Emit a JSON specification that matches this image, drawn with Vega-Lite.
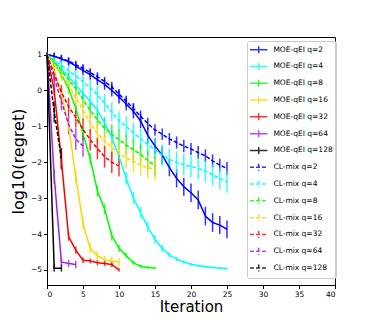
{
  "$schema": "https://vega.github.io/schema/vega-lite/v6.json",
  "autosize": {"type": "none"},
  "padding": {"left": 47, "top": 37, "right": 39, "bottom": 35},
  "width": 288,
  "height": 248,
  "background": "white",
  "config": {
    "font": "DejaVu Sans",
    "view": {"stroke": "black", "strokeWidth": 1},
    "axis": {
      "grid": false, "domainColor": "black", "tickColor": "black", "tickSize": 3.5,
      "labelColor": "black", "labelFontSize": 7.5, "labelFont": "DejaVu Sans", "labelPadding": 2,
      "titleColor": "black", "titleFont": "DejaVu Sans", "titleFontWeight": "normal"
    },
    "legend": {
      "orient": "none", "legendX": 200, "legendY": 4,
      "padding": 3.15, "rowPadding": 1.8, "symbolSize": 81,
      "symbolType": "M-1.26,0H2.61M0.68,-0.78V0.78",
      "symbolStrokeWidth": 1.5, "labelOffset": 12.25,
      "labelFontSize": 7.5, "labelFont": "DejaVu Sans", "labelColor": "black",
      "fillColor": "rgba(255,255,255,0.8)", "strokeColor": "#cccccc", "cornerRadius": 2
    }
  },
  "datasets": {
    "d": [
      {"s":"MOE-qEI q=2","x":0,"y":1.0,"e":0.05},{"s":"MOE-qEI q=2","x":1,"y":0.95,"e":0.1},{"s":"MOE-qEI q=2","x":2,"y":0.88,"e":0.1},{"s":"MOE-qEI q=2","x":3,"y":0.8,"e":0.12},{"s":"MOE-qEI q=2","x":4,"y":0.68,"e":0.12},{"s":"MOE-qEI q=2","x":5,"y":0.56,"e":0.13},{"s":"MOE-qEI q=2","x":6,"y":0.44,"e":0.14},{"s":"MOE-qEI q=2","x":7,"y":0.3,"e":0.15},{"s":"MOE-qEI q=2","x":8,"y":0.17,"e":0.15},{"s":"MOE-qEI q=2","x":9,"y":0.0,"e":0.17},{"s":"MOE-qEI q=2","x":10,"y":-0.18,"e":0.18},{"s":"MOE-qEI q=2","x":11,"y":-0.38,"e":0.18},{"s":"MOE-qEI q=2","x":12,"y":-0.58,"e":0.2},{"s":"MOE-qEI q=2","x":13,"y":-0.85,"e":0.2},{"s":"MOE-qEI q=2","x":14,"y":-1.25,"e":0.22},{"s":"MOE-qEI q=2","x":15,"y":-1.55,"e":0.22},{"s":"MOE-qEI q=2","x":16,"y":-1.8,"e":0.24},{"s":"MOE-qEI q=2","x":17,"y":-2.15,"e":0.24},{"s":"MOE-qEI q=2","x":18,"y":-2.45,"e":0.25},{"s":"MOE-qEI q=2","x":19,"y":-2.68,"e":0.25},{"s":"MOE-qEI q=2","x":20,"y":-2.85,"e":0.26},{"s":"MOE-qEI q=2","x":21,"y":-3.05,"e":0.26},{"s":"MOE-qEI q=2","x":22,"y":-3.5,"e":0.26},{"s":"MOE-qEI q=2","x":23,"y":-3.68,"e":0.26},{"s":"MOE-qEI q=2","x":24,"y":-3.75,"e":0.25},{"s":"MOE-qEI q=2","x":25,"y":-3.87,"e":0.25},
      {"s":"MOE-qEI q=4","x":0,"y":1.0,"e":0.05},{"s":"MOE-qEI q=4","x":1,"y":0.8,"e":0.1},{"s":"MOE-qEI q=4","x":2,"y":0.6,"e":0.12},{"s":"MOE-qEI q=4","x":3,"y":0.38,"e":0.13},{"s":"MOE-qEI q=4","x":4,"y":0.15,"e":0.14},{"s":"MOE-qEI q=4","x":5,"y":-0.08,"e":0.15},{"s":"MOE-qEI q=4","x":6,"y":-0.3,"e":0.16},{"s":"MOE-qEI q=4","x":7,"y":-0.55,"e":0.17},{"s":"MOE-qEI q=4","x":8,"y":-0.9,"e":0.18},{"s":"MOE-qEI q=4","x":9,"y":-1.3,"e":0.18},{"s":"MOE-qEI q=4","x":10,"y":-1.85,"e":0.18},{"s":"MOE-qEI q=4","x":11,"y":-2.45,"e":0.18},{"s":"MOE-qEI q=4","x":12,"y":-3.0,"e":0.17},{"s":"MOE-qEI q=4","x":13,"y":-3.4,"e":0.16},{"s":"MOE-qEI q=4","x":14,"y":-3.8,"e":0.14},{"s":"MOE-qEI q=4","x":15,"y":-4.15,"e":0.12},{"s":"MOE-qEI q=4","x":16,"y":-4.4,"e":0.1},{"s":"MOE-qEI q=4","x":17,"y":-4.58,"e":0.08},{"s":"MOE-qEI q=4","x":18,"y":-4.7,"e":0.06},{"s":"MOE-qEI q=4","x":19,"y":-4.78,"e":0.05},{"s":"MOE-qEI q=4","x":20,"y":-4.84,"e":0.04},{"s":"MOE-qEI q=4","x":21,"y":-4.88,"e":0.03},{"s":"MOE-qEI q=4","x":22,"y":-4.91,"e":0.03},{"s":"MOE-qEI q=4","x":23,"y":-4.93,"e":0.03},{"s":"MOE-qEI q=4","x":24,"y":-4.95,"e":0.03},{"s":"MOE-qEI q=4","x":25,"y":-4.96,"e":0.03},
      {"s":"MOE-qEI q=8","x":0,"y":1.0,"e":0.05},{"s":"MOE-qEI q=8","x":1,"y":0.75,"e":0.1},{"s":"MOE-qEI q=8","x":2,"y":0.45,"e":0.12},{"s":"MOE-qEI q=8","x":3,"y":0.05,"e":0.14},{"s":"MOE-qEI q=8","x":4,"y":-0.5,"e":0.15},{"s":"MOE-qEI q=8","x":5,"y":-1.2,"e":0.16},{"s":"MOE-qEI q=8","x":6,"y":-1.9,"e":0.16},{"s":"MOE-qEI q=8","x":7,"y":-2.8,"e":0.16},{"s":"MOE-qEI q=8","x":8,"y":-3.3,"e":0.15},{"s":"MOE-qEI q=8","x":9,"y":-4.05,"e":0.13},{"s":"MOE-qEI q=8","x":10,"y":-4.4,"e":0.1},{"s":"MOE-qEI q=8","x":11,"y":-4.6,"e":0.08},{"s":"MOE-qEI q=8","x":12,"y":-4.8,"e":0.06},{"s":"MOE-qEI q=8","x":13,"y":-4.9,"e":0.05},{"s":"MOE-qEI q=8","x":14,"y":-4.93,"e":0.04},{"s":"MOE-qEI q=8","x":15,"y":-4.95,"e":0.04},
      {"s":"MOE-qEI q=16","x":0,"y":1.0,"e":0.05},{"s":"MOE-qEI q=16","x":1,"y":0.55,"e":0.12},{"s":"MOE-qEI q=16","x":2,"y":-0.1,"e":0.15},{"s":"MOE-qEI q=16","x":3,"y":-1.0,"e":0.16},{"s":"MOE-qEI q=16","x":4,"y":-2.4,"e":0.18},{"s":"MOE-qEI q=16","x":5,"y":-3.7,"e":0.18},{"s":"MOE-qEI q=16","x":6,"y":-4.4,"e":0.14},{"s":"MOE-qEI q=16","x":7,"y":-4.6,"e":0.12},{"s":"MOE-qEI q=16","x":8,"y":-4.72,"e":0.12},{"s":"MOE-qEI q=16","x":9,"y":-4.75,"e":0.12},{"s":"MOE-qEI q=16","x":10,"y":-4.78,"e":0.12},
      {"s":"MOE-qEI q=32","x":0,"y":1.0,"e":0.05},{"s":"MOE-qEI q=32","x":1,"y":0.0,"e":0.15},{"s":"MOE-qEI q=32","x":2,"y":-1.95,"e":0.2},{"s":"MOE-qEI q=32","x":3,"y":-4.07,"e":0.12},{"s":"MOE-qEI q=32","x":4,"y":-4.45,"e":0.1},{"s":"MOE-qEI q=32","x":5,"y":-4.73,"e":0.08},{"s":"MOE-qEI q=32","x":6,"y":-4.75,"e":0.07},{"s":"MOE-qEI q=32","x":7,"y":-4.8,"e":0.07},{"s":"MOE-qEI q=32","x":8,"y":-4.82,"e":0.07},{"s":"MOE-qEI q=32","x":9,"y":-4.85,"e":0.07},{"s":"MOE-qEI q=32","x":10,"y":-5.0,"e":0.05},
      {"s":"MOE-qEI q=64","x":0,"y":1.0,"e":0.05},{"s":"MOE-qEI q=64","x":1,"y":-2.4,"e":0.2},{"s":"MOE-qEI q=64","x":2,"y":-4.78,"e":0.1},{"s":"MOE-qEI q=64","x":3,"y":-4.82,"e":0.1},{"s":"MOE-qEI q=64","x":4,"y":-4.85,"e":0.1},
      {"s":"MOE-qEI q=128","x":0,"y":1.0,"e":0.05},{"s":"MOE-qEI q=128","x":1,"y":-4.95,"e":0.1},{"s":"MOE-qEI q=128","x":2,"y":-4.95,"e":0.1},
      {"s":"CL-mix q=2","x":0,"y":1.0,"e":0.05},{"s":"CL-mix q=2","x":1,"y":0.95,"e":0.1},{"s":"CL-mix q=2","x":2,"y":0.9,"e":0.1},{"s":"CL-mix q=2","x":3,"y":0.82,"e":0.1},{"s":"CL-mix q=2","x":4,"y":0.72,"e":0.11},{"s":"CL-mix q=2","x":5,"y":0.62,"e":0.12},{"s":"CL-mix q=2","x":6,"y":0.5,"e":0.12},{"s":"CL-mix q=2","x":7,"y":0.38,"e":0.13},{"s":"CL-mix q=2","x":8,"y":0.25,"e":0.13},{"s":"CL-mix q=2","x":9,"y":0.1,"e":0.14},{"s":"CL-mix q=2","x":10,"y":-0.1,"e":0.14},{"s":"CL-mix q=2","x":11,"y":-0.3,"e":0.15},{"s":"CL-mix q=2","x":12,"y":-0.5,"e":0.15},{"s":"CL-mix q=2","x":13,"y":-0.72,"e":0.16},{"s":"CL-mix q=2","x":14,"y":-0.92,"e":0.16},{"s":"CL-mix q=2","x":15,"y":-1.1,"e":0.16},{"s":"CL-mix q=2","x":16,"y":-1.22,"e":0.16},{"s":"CL-mix q=2","x":17,"y":-1.35,"e":0.17},{"s":"CL-mix q=2","x":18,"y":-1.45,"e":0.17},{"s":"CL-mix q=2","x":19,"y":-1.55,"e":0.17},{"s":"CL-mix q=2","x":20,"y":-1.63,"e":0.17},{"s":"CL-mix q=2","x":21,"y":-1.73,"e":0.18},{"s":"CL-mix q=2","x":22,"y":-1.82,"e":0.18},{"s":"CL-mix q=2","x":23,"y":-1.96,"e":0.18},{"s":"CL-mix q=2","x":24,"y":-2.08,"e":0.18},{"s":"CL-mix q=2","x":25,"y":-2.17,"e":0.18},
      {"s":"CL-mix q=4","x":0,"y":1.0,"e":0.05},{"s":"CL-mix q=4","x":1,"y":0.85,"e":0.12},{"s":"CL-mix q=4","x":2,"y":0.7,"e":0.14},{"s":"CL-mix q=4","x":3,"y":0.55,"e":0.16},{"s":"CL-mix q=4","x":4,"y":0.4,"e":0.18},{"s":"CL-mix q=4","x":5,"y":0.25,"e":0.2},{"s":"CL-mix q=4","x":6,"y":0.07,"e":0.22},{"s":"CL-mix q=4","x":7,"y":-0.12,"e":0.24},{"s":"CL-mix q=4","x":8,"y":-0.35,"e":0.25},{"s":"CL-mix q=4","x":9,"y":-0.6,"e":0.26},{"s":"CL-mix q=4","x":10,"y":-0.85,"e":0.27},{"s":"CL-mix q=4","x":11,"y":-1.0,"e":0.28},{"s":"CL-mix q=4","x":12,"y":-1.18,"e":0.28},{"s":"CL-mix q=4","x":13,"y":-1.35,"e":0.29},{"s":"CL-mix q=4","x":14,"y":-1.5,"e":0.29},{"s":"CL-mix q=4","x":15,"y":-1.65,"e":0.3},{"s":"CL-mix q=4","x":16,"y":-1.8,"e":0.3},{"s":"CL-mix q=4","x":17,"y":-1.92,"e":0.3},{"s":"CL-mix q=4","x":18,"y":-2.0,"e":0.3},{"s":"CL-mix q=4","x":19,"y":-2.07,"e":0.3},{"s":"CL-mix q=4","x":20,"y":-2.12,"e":0.3},{"s":"CL-mix q=4","x":21,"y":-2.17,"e":0.3},{"s":"CL-mix q=4","x":22,"y":-2.25,"e":0.3},{"s":"CL-mix q=4","x":23,"y":-2.35,"e":0.3},{"s":"CL-mix q=4","x":24,"y":-2.45,"e":0.3},{"s":"CL-mix q=4","x":25,"y":-2.55,"e":0.3},
      {"s":"CL-mix q=8","x":0,"y":1.0,"e":0.05},{"s":"CL-mix q=8","x":1,"y":0.8,"e":0.12},{"s":"CL-mix q=8","x":2,"y":0.55,"e":0.15},{"s":"CL-mix q=8","x":3,"y":0.3,"e":0.18},{"s":"CL-mix q=8","x":4,"y":0.05,"e":0.2},{"s":"CL-mix q=8","x":5,"y":-0.25,"e":0.22},{"s":"CL-mix q=8","x":6,"y":-0.55,"e":0.24},{"s":"CL-mix q=8","x":7,"y":-0.82,"e":0.26},{"s":"CL-mix q=8","x":8,"y":-1.05,"e":0.27},{"s":"CL-mix q=8","x":9,"y":-1.22,"e":0.28},{"s":"CL-mix q=8","x":10,"y":-1.37,"e":0.28},{"s":"CL-mix q=8","x":11,"y":-1.52,"e":0.28},{"s":"CL-mix q=8","x":12,"y":-1.65,"e":0.28},{"s":"CL-mix q=8","x":13,"y":-1.78,"e":0.28},{"s":"CL-mix q=8","x":14,"y":-1.95,"e":0.28},{"s":"CL-mix q=8","x":15,"y":-2.1,"e":0.28},
      {"s":"CL-mix q=16","x":0,"y":1.0,"e":0.05},{"s":"CL-mix q=16","x":1,"y":0.75,"e":0.14},{"s":"CL-mix q=16","x":2,"y":0.45,"e":0.18},{"s":"CL-mix q=16","x":3,"y":0.15,"e":0.22},{"s":"CL-mix q=16","x":4,"y":-0.2,"e":0.25},{"s":"CL-mix q=16","x":5,"y":-0.55,"e":0.27},{"s":"CL-mix q=16","x":6,"y":-0.9,"e":0.3},{"s":"CL-mix q=16","x":7,"y":-1.2,"e":0.3},{"s":"CL-mix q=16","x":8,"y":-1.4,"e":0.3},{"s":"CL-mix q=16","x":9,"y":-1.6,"e":0.3},{"s":"CL-mix q=16","x":10,"y":-1.75,"e":0.3},{"s":"CL-mix q=16","x":11,"y":-1.88,"e":0.3},{"s":"CL-mix q=16","x":12,"y":-1.98,"e":0.3},{"s":"CL-mix q=16","x":13,"y":-2.08,"e":0.3},{"s":"CL-mix q=16","x":14,"y":-2.15,"e":0.3},{"s":"CL-mix q=16","x":15,"y":-2.2,"e":0.3},
      {"s":"CL-mix q=32","x":0,"y":1.0,"e":0.05},{"s":"CL-mix q=32","x":1,"y":0.45,"e":0.15},{"s":"CL-mix q=32","x":2,"y":-0.05,"e":0.2},{"s":"CL-mix q=32","x":3,"y":-0.45,"e":0.25},{"s":"CL-mix q=32","x":4,"y":-0.75,"e":0.28},{"s":"CL-mix q=32","x":5,"y":-1.08,"e":0.3},{"s":"CL-mix q=32","x":6,"y":-1.37,"e":0.3},{"s":"CL-mix q=32","x":7,"y":-1.62,"e":0.3},{"s":"CL-mix q=32","x":8,"y":-1.85,"e":0.3},{"s":"CL-mix q=32","x":9,"y":-2.0,"e":0.3},{"s":"CL-mix q=32","x":10,"y":-2.1,"e":0.3},
      {"s":"CL-mix q=64","x":0,"y":1.0,"e":0.05},{"s":"CL-mix q=64","x":1,"y":0.35,"e":0.2},{"s":"CL-mix q=64","x":2,"y":-0.3,"e":0.25},{"s":"CL-mix q=64","x":3,"y":-0.95,"e":0.28},{"s":"CL-mix q=64","x":4,"y":-1.35,"e":0.3},{"s":"CL-mix q=64","x":5,"y":-1.55,"e":0.3},
      {"s":"CL-mix q=128","x":0,"y":1.0,"e":0.05},{"s":"CL-mix q=128","x":1,"y":-0.6,"e":0.3},{"s":"CL-mix q=128","x":2,"y":-1.9,"e":0.3}
    ]
  },
  "data": {"name": "d"},
  "encoding": {
    "x": {"field": "x", "type": "quantitative",
      "scale": {"domain": [0, 40], "nice": false, "zero": false},
      "axis": {"values": [0,5,10,15,20,25,30,35,40], "title": "Iteration", "titleFontSize": 15, "titlePadding": 1}
    },
    "y": {"field": "y", "type": "quantitative",
      "scale": {"domain": [-5.42, 1.49], "nice": false, "zero": false},
      "axis": {"values": [-5,-4,-3,-2,-1,0,1], "title": "log10(regret)", "titleFontSize": 16, "titlePadding": 4}
    },
    "color": {"field": "s", "type": "nominal", "title": null,
      "scale": {
        "domain": ["MOE-qEI q=2","MOE-qEI q=4","MOE-qEI q=8","MOE-qEI q=16","MOE-qEI q=32","MOE-qEI q=64","MOE-qEI q=128","CL-mix q=2","CL-mix q=4","CL-mix q=8","CL-mix q=16","CL-mix q=32","CL-mix q=64","CL-mix q=128"],
        "range": ["#0000ff","#00ffff","#00ff00","#ffd700","#ff0000","#a020f0","#000000","#0000ff","#00ffff","#00ff00","#ffd700","#ff0000","#a020f0","#000000"]
      }
    }
  },
  "layer": [
    {
      "mark": {"type": "errorbar", "ticks": false, "thickness": 1.5, "opacity": 0.8},
      "encoding": {
        "y": {"field": "y", "type": "quantitative", "title": "log10(regret)"},
        "yError": {"field": "e"}
      }
    },
    {
      "mark": {"type": "line", "strokeWidth": 1.5},
      "encoding": {
        "strokeDash": {"field": "s", "type": "nominal", "title": null,
          "scale": {
            "domain": ["MOE-qEI q=2","MOE-qEI q=4","MOE-qEI q=8","MOE-qEI q=16","MOE-qEI q=32","MOE-qEI q=64","MOE-qEI q=128","CL-mix q=2","CL-mix q=4","CL-mix q=8","CL-mix q=16","CL-mix q=32","CL-mix q=64","CL-mix q=128"],
            "range": [[1,0],[1,0],[1,0],[1,0],[1,0],[1,0],[1,0],[4,2],[4,2],[4,2],[4,2],[4,2],[4,2],[4,2]]
          }
        }
      }
    }
  ]
}
